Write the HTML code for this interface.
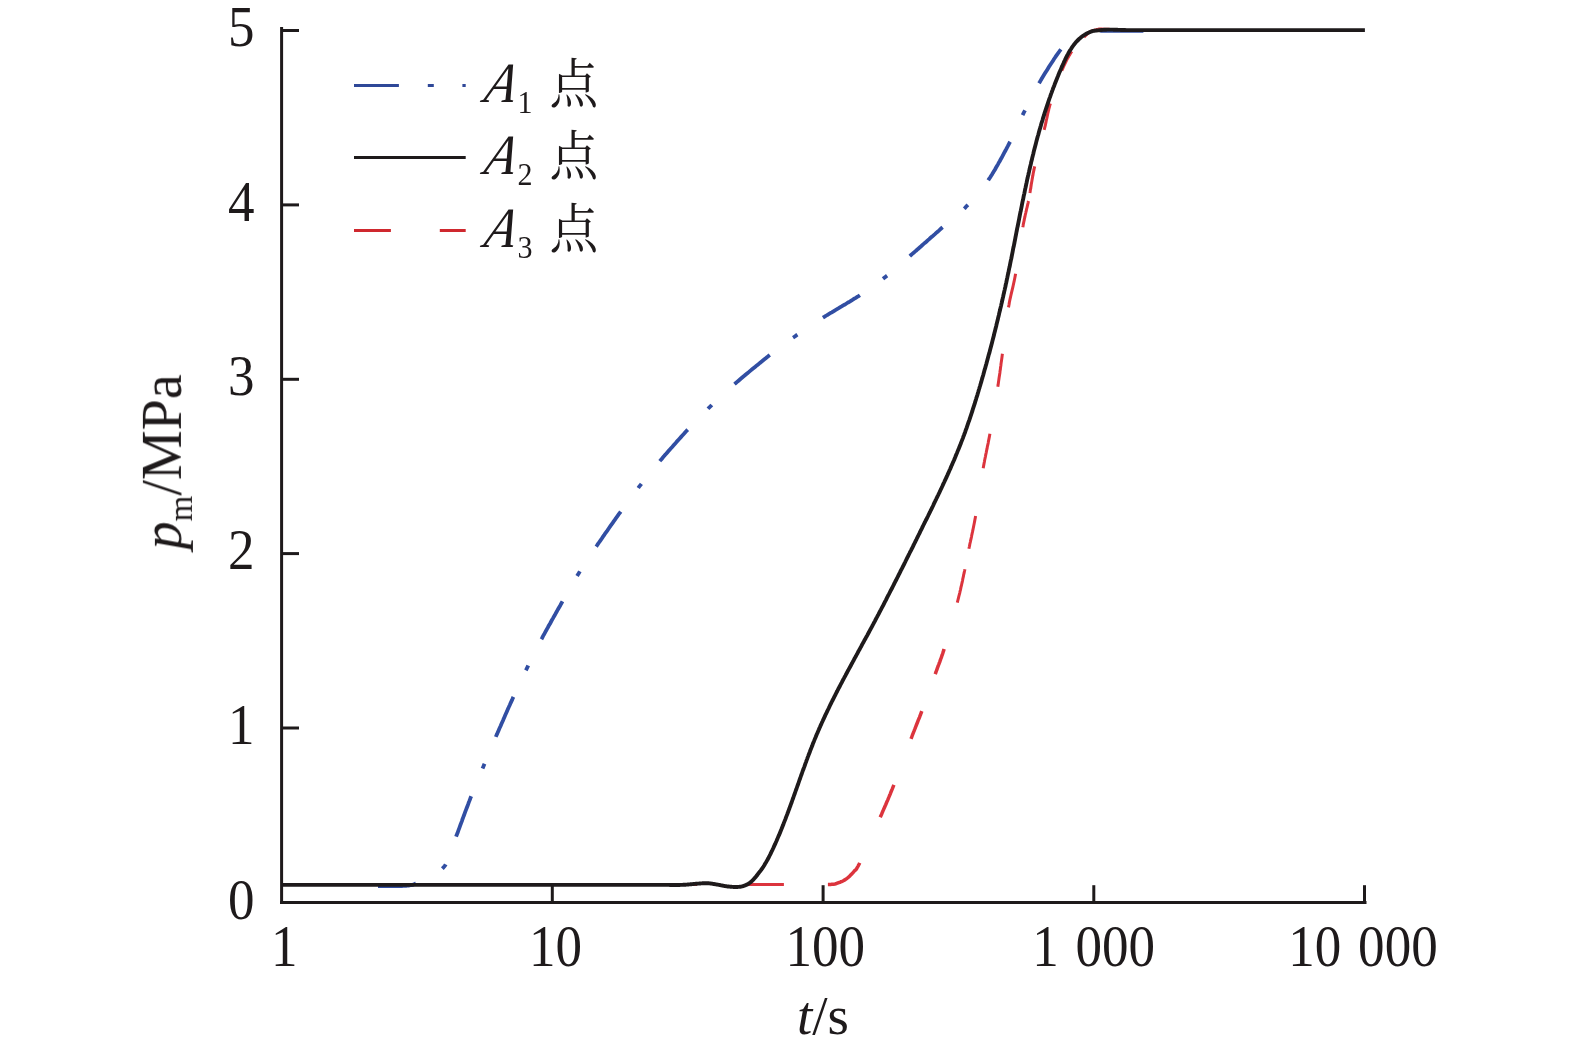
<!DOCTYPE html>
<html lang="zh"><head><meta charset="utf-8"><title>pm - t</title>
<style>html,body{margin:0;padding:0;background:#fff}svg{display:block}</style></head>
<body>
<svg width="1575" height="1052" viewBox="0 0 1575 1052">
<rect width="1575" height="1052" fill="#fff"/>
<g fill="none" stroke="#314ea3" stroke-width="3.8"><path d="M378.0 886.0 L379.3 886.0 L380.6 886.0 L381.8 886.0 L383.1 886.0 L384.3 886.0 L385.5 886.0 L386.7 886.0 L387.9 886.0 L389.1 886.0 L390.3 886.0 L391.4 886.1 L392.5 886.1 L393.5 886.1 L394.6 886.0 L395.6 886.0 L396.6 886.0 L397.5 886.0 L398.4 886.0 L399.2 886.0 L400.0 886.0 L400.7 886.0 L401.4 886.0 L402.1 886.0 L402.7 885.9 L403.3 885.9 L403.8 885.9 L404.3 885.9 L404.7 885.9 L405.2 885.8 L405.6 885.8 L406.0 885.8 L406.3 885.8 L406.7 885.7 L407.0 885.7 L407.3 885.7 L407.6 885.6 L407.9 885.6 L408.2 885.6 L408.5 885.5 L408.8 885.5 L409.1 885.4 L409.4 885.4 L409.7 885.4 L410.0 885.3 L410.3 885.2 L410.6 885.2 L410.9 885.2 L411.1 885.1 L411.4 885.1 L411.6 885.0 L411.8 885.0 L412.0 885.0 L412.2 884.9 L412.4 884.9 L412.6 884.8 L412.8 884.8 L412.9 884.7 L413.1 884.6 L413.3 884.6 L413.6 884.5 L413.8 884.4 L414.0 884.3 L414.3 884.2 L414.6 884.1 L414.9 884.0 L415.2 883.8 L415.6 883.7 L416.0 883.5"/><path d="M456.1 836.7 L456.5 835.5 L457.0 834.2 L457.6 832.8 L458.1 831.3 L458.7 829.7 L459.3 828.1 L459.9 826.4 L460.5 824.7 L461.2 822.9 L461.9 821.1 L462.5 819.2 L463.2 817.4 L463.9 815.5 L464.6 813.6 L465.3 811.7 L466.0 809.9 L466.7 808.0 L467.4 806.2 L468.1 804.4 L468.7 802.6 L469.4 800.9 L470.0 799.3 L470.6 797.7 L471.2 796.2"/><path d="M495.8 736.9 L496.4 735.4 L497.1 733.9 L497.8 732.3 L498.5 730.7 L499.2 729.1 L499.9 727.4 L500.7 725.7 L501.4 724.0 L502.2 722.2 L503.0 720.4 L503.7 718.7 L504.5 716.9 L505.3 715.1 L506.1 713.3 L506.9 711.6 L507.6 709.8 L508.4 708.1 L509.1 706.4 L509.9 704.7 L510.6 703.1 L511.4 701.4 L512.1 699.9 L512.7 698.4 L513.4 696.9"/><path d="M541.4 639.3 L542.2 637.9 L542.9 636.4 L543.7 634.9 L544.6 633.4 L545.4 631.8 L546.3 630.2 L547.2 628.6 L548.1 627.0 L549.0 625.3 L550.0 623.7 L550.9 622.0 L551.8 620.3 L552.8 618.6 L553.7 616.9 L554.7 615.3 L555.6 613.6 L556.5 612.0 L557.4 610.4 L558.3 608.8 L559.2 607.2 L560.1 605.7 L560.9 604.2 L561.7 602.8 L562.5 601.4"/><path d="M596.2 546.6 L597.1 545.3 L598.0 543.9 L599.0 542.5 L600.0 541.1 L601.0 539.7 L602.0 538.2 L603.0 536.7 L604.1 535.2 L605.1 533.6 L606.2 532.1 L607.3 530.6 L608.4 529.0 L609.4 527.5 L610.5 525.9 L611.6 524.4 L612.7 522.9 L613.7 521.4 L614.8 519.9 L615.8 518.4 L616.9 517.0 L617.8 515.6 L618.8 514.2 L619.8 512.9 L620.7 511.6"/><path d="M659.8 461.1 L660.8 459.9 L661.9 458.7 L662.9 457.4 L664.1 456.1 L665.2 454.8 L666.4 453.5 L667.5 452.2 L668.7 450.8 L669.9 449.4 L671.2 448.0 L672.4 446.7 L673.6 445.3 L674.8 443.9 L676.1 442.5 L677.3 441.1 L678.5 439.8 L679.7 438.4 L680.9 437.1 L682.1 435.8 L683.3 434.5 L684.4 433.3 L685.5 432.0 L686.6 430.8 L687.7 429.7"/><path d="M734.5 384.1 L735.8 383.0 L737.1 381.9 L738.5 380.7 L739.9 379.5 L741.3 378.3 L742.8 377.0 L744.3 375.8 L745.8 374.5 L747.4 373.2 L749.0 371.9 L750.5 370.6 L752.1 369.3 L753.7 368.0 L755.3 366.7 L756.8 365.4 L758.4 364.2 L759.9 362.9 L761.4 361.7 L762.9 360.5 L764.4 359.3 L765.8 358.2 L767.2 357.1 L768.5 356.0 L769.8 355.0"/><path d="M822.9 317.7 L824.3 316.8 L825.7 316.0 L827.2 315.0 L828.7 314.1 L830.2 313.2 L831.8 312.3 L833.4 311.3 L835.0 310.3 L836.6 309.4 L838.3 308.4 L839.9 307.4 L841.6 306.4 L843.2 305.4 L844.9 304.5 L846.5 303.5 L848.1 302.5 L849.7 301.6 L851.3 300.6 L852.8 299.7 L854.3 298.7 L855.8 297.8 L857.2 296.9 L858.6 296.1 L859.9 295.2"/><path d="M909.8 256.1 L911.0 255.0 L912.3 253.9 L913.6 252.8 L914.9 251.6 L916.3 250.5 L917.7 249.2 L919.1 248.0 L920.5 246.8 L921.9 245.5 L923.4 244.2 L924.8 242.9 L926.3 241.7 L927.7 240.4 L929.2 239.1 L930.6 237.8 L932.1 236.6 L933.5 235.3 L934.9 234.1 L936.2 232.9 L937.6 231.7 L938.9 230.6 L940.2 229.4 L941.4 228.3 L942.6 227.3"/><path d="M988.2 180.3 L989.1 178.9 L990.1 177.5 L991.0 176.0 L992.0 174.5 L992.9 172.9 L993.9 171.3 L994.9 169.7 L995.8 168.0 L996.8 166.3 L997.8 164.6 L998.7 162.9 L999.7 161.2 L1000.6 159.5 L1001.6 157.8 L1002.5 156.1 L1003.4 154.4 L1004.3 152.7 L1005.2 151.0 L1006.1 149.4 L1006.9 147.8 L1007.8 146.2 L1008.6 144.7 L1009.3 143.2 L1010.1 141.8"/><path d="M1039.0 83.3 L1039.8 82.0 L1040.6 80.6 L1041.5 79.1 L1042.4 77.6 L1043.3 76.1 L1044.2 74.6 L1045.1 73.1 L1046.1 71.5 L1047.1 69.9 L1048.0 68.4 L1049.0 66.8 L1050.0 65.2 L1051.0 63.7 L1052.0 62.2 L1053.0 60.7 L1053.9 59.2 L1054.9 57.8 L1055.8 56.4 L1056.7 55.1 L1057.6 53.8 L1058.5 52.6 L1059.3 51.5 L1060.1 50.4 L1060.9 49.4"/><path d="M1100.0 30.7 L1101.2 30.8 L1102.6 30.8 L1104.4 30.8 L1106.6 30.8 L1109.2 30.8 L1112.3 30.8 L1115.9 30.8 L1120.0 30.8 L1124.7 30.8 L1130.0 30.8 L1136.2 30.8 L1143.4 30.8"/><path d="M442.3 868.6 L442.8 868.1 L443.3 867.6 L443.8 867.1 L444.2 866.6 L444.6 866.1 L445.0 865.5 L445.4 865.0 L445.7 864.4"/><path d="M482.5 768.6 L483.0 767.4 L483.5 766.2 L484.0 765.0 L484.5 763.8"/><path d="M525.9 670.3 L526.5 669.1 L527.1 667.9 L527.7 666.7 L528.2 665.5"/><path d="M577.1 576.0 L577.8 574.8 L578.5 573.7 L579.2 572.6 L579.9 571.4"/><path d="M638.2 488.0 L639.0 486.9 L639.8 485.9 L640.6 484.9 L641.4 483.8"/><path d="M708.0 408.8 L708.9 407.8 L709.9 406.9 L710.9 406.0 L711.8 405.0"/><path d="M793.0 337.7 L794.1 337.0 L795.2 336.2 L796.3 335.4 L797.4 334.7"/><path d="M883.0 278.8 L884.0 278.0 L885.0 277.2 L886.0 276.4 L887.1 275.6"/><path d="M964.1 208.7 L965.1 207.8 L966.0 206.8 L966.9 205.8 L967.9 204.8"/><path d="M1022.6 115.1 L1023.2 113.9 L1023.8 112.7 L1024.4 111.5 L1025.0 110.3"/></g>
<g fill="none" stroke="#dc343d"><path d="M281.6 884.5" stroke-width="3.0"/><path d="M312.0 884.5 L313.4 884.5 L314.8 884.5 L316.2 884.5 L317.6 884.5 L319.1 884.5 L320.5 884.5 L321.9 884.5 L323.4 884.5 L324.8 884.5 L326.3 884.5 L327.8 884.5 L329.3 884.5 L330.8 884.5 L332.3 884.5 L333.9 884.5 L335.5 884.5 L337.1 884.5 L338.7 884.5 L340.3 884.5 L342.0 884.5 L343.7 884.5 L345.4 884.5 L347.2 884.5 L349.0 884.5" stroke-width="3.0"/><path d="M399.0 884.5 L400.8 884.5 L402.5 884.5 L404.2 884.5 L405.8 884.5 L407.3 884.5 L408.9 884.5 L410.4 884.5 L411.8 884.5 L413.3 884.5 L414.7 884.5 L416.1 884.5 L417.5 884.5 L418.9 884.5 L420.3 884.5 L421.7 884.5 L423.2 884.5 L424.6 884.5 L426.1 884.5 L427.7 884.5 L429.2 884.5 L430.8 884.5 L432.5 884.5 L434.2 884.5 L436.0 884.5" stroke-width="3.0"/><path d="M486.0 884.5 L487.8 884.5 L489.5 884.5 L491.2 884.5 L492.8 884.5 L494.3 884.5 L495.9 884.5 L497.4 884.5 L498.8 884.5 L500.3 884.5 L501.7 884.5 L503.1 884.5 L504.5 884.5 L505.9 884.5 L507.3 884.5 L508.7 884.5 L510.2 884.5 L511.6 884.5 L513.1 884.5 L514.7 884.5 L516.2 884.5 L517.8 884.5 L519.5 884.5 L521.2 884.5 L523.0 884.5" stroke-width="3.0"/><path d="M573.0 884.5 L574.8 884.5 L576.5 884.5 L578.2 884.5 L579.8 884.5 L581.3 884.5 L582.9 884.5 L584.4 884.5 L585.8 884.5 L587.3 884.5 L588.7 884.5 L590.1 884.5 L591.5 884.5 L592.9 884.5 L594.3 884.5 L595.7 884.5 L597.2 884.5 L598.6 884.5 L600.1 884.5 L601.7 884.5 L603.2 884.5 L604.8 884.5 L606.5 884.5 L608.2 884.5 L610.0 884.5" stroke-width="3.0"/><path d="M660.0 884.5 L661.8 884.5 L663.5 884.5 L665.2 884.5 L666.8 884.5 L668.3 884.5 L669.9 884.5 L671.4 884.5 L672.8 884.5 L674.3 884.5 L675.7 884.5 L677.1 884.5 L678.5 884.5 L679.9 884.5 L681.3 884.5 L682.7 884.5 L684.2 884.5 L685.6 884.5 L687.1 884.5 L688.7 884.5 L690.2 884.5 L691.8 884.5 L693.5 884.5 L695.2 884.5 L697.0 884.5" stroke-width="3.0"/><path d="M747.0 884.5 L748.8 884.5 L750.5 884.5 L752.2 884.5 L753.8 884.5 L755.4 884.5 L757.0 884.5 L758.5 884.5 L760.0 884.5 L761.5 884.5 L762.9 884.5 L764.4 884.5 L765.8 884.5 L767.3 884.5 L768.7 884.5 L770.1 884.5 L771.6 884.5 L773.0 884.5 L774.5 884.5 L776.0 884.5 L777.5 884.5 L779.0 884.5 L780.6 884.5 L782.2 884.5 L783.9 884.5" stroke-width="3.0"/><path d="M827.9 884.5 L829.0 884.5 L830.0 884.4 L830.8 884.4 L831.6 884.3 L832.3 884.3 L832.9 884.3 L833.5 884.2 L834.0 884.2 L834.4 884.1 L834.8 884.0 L835.1 884.0 L835.4 883.9 L835.6 883.8 L835.9 883.8 L836.1 883.7 L836.3 883.6 L836.5 883.5 L836.7 883.4 L836.9 883.3 L837.2 883.2 L837.4 883.1 L837.7 883.0 L838.0 882.9 L838.4 882.8 L838.8 882.7 L839.2 882.5 L839.6 882.4 L839.9 882.3 L840.3 882.1 L840.7 882.0 L841.0 881.8 L841.4 881.7 L841.7 881.5 L842.1 881.4 L842.4 881.2 L842.8 881.0 L843.1 880.8 L843.4 880.7 L843.8 880.5 L844.1 880.3 L844.4 880.1 L844.8 879.9 L845.1 879.7 L845.4 879.5 L845.7 879.3 L846.1 879.1 L846.4 878.8 L846.7 878.6 L847.0 878.4 L847.3 878.1 L847.6 877.9 L848.0 877.6 L848.3 877.4 L848.6 877.1 L848.9 876.8 L849.2 876.6 L849.5 876.3 L849.8 876.0 L850.1 875.7 L850.3 875.4 L850.6 875.1 L850.9 874.8 L851.2 874.5 L851.5 874.2 L851.8 873.9 L852.1 873.6 L852.3 873.3 L852.6 873.0 L852.9 872.7 L853.2 872.4 L853.4 872.0 L853.7 871.7 L854.0 871.4 L854.2 871.2 L854.4 870.9 L854.6 870.8 L854.8 870.6 L854.9 870.5 L855.1 870.4 L855.2 870.3 L855.4 870.2 L855.5 870.0 L855.7 869.9 L855.9 869.7 L856.0 869.5 L856.2 869.3 L856.4 869.0 L856.7 868.6 L856.9 868.2 L857.2 867.7 L857.5 867.2 L857.9 866.5 L858.3 865.8 L858.7 864.9 L859.2 864.0 L859.7 862.9" stroke-width="3.5"/><path d="M880.2 817.3 L880.9 815.7 L881.6 814.2 L882.2 812.7 L882.8 811.3 L883.4 809.9 L884.0 808.6 L884.6 807.3 L885.1 806.0 L885.7 804.7 L886.2 803.5 L886.7 802.3 L887.3 801.1 L887.8 799.9 L888.3 798.6 L888.8 797.4 L889.3 796.1 L889.9 794.9 L890.4 793.6 L890.9 792.2 L891.5 790.8 L892.1 789.4 L892.7 787.9 L893.3 786.4 L893.9 784.8" stroke-width="3.5"/><path d="M911.0 738.9 L911.6 737.4 L912.1 736.0 L912.6 734.6 L913.1 733.3 L913.6 732.1 L914.1 730.9 L914.5 729.8 L915.0 728.7 L915.4 727.6 L915.8 726.5 L916.2 725.5 L916.6 724.5 L917.0 723.5 L917.4 722.5 L917.8 721.5 L918.2 720.5 L918.6 719.4 L919.1 718.4 L919.5 717.3 L919.9 716.1 L920.4 715.0 L920.8 713.8 L921.3 712.5 L921.8 711.2" stroke-width="3.5"/><path d="M935.2 674.1 L935.7 672.8 L936.1 671.7 L936.5 670.5 L936.9 669.5 L937.3 668.5 L937.6 667.5 L938.0 666.5 L938.3 665.6 L938.7 664.7 L939.0 663.9 L939.3 663.0 L939.7 662.1 L940.0 661.2 L940.3 660.4 L940.6 659.4 L941.0 658.5 L941.3 657.5 L941.7 656.5 L942.0 655.4 L942.4 654.3 L942.8 653.1 L943.2 651.8 L943.7 650.4 L944.1 649.0" stroke-width="3.5"/><path d="M957.3 602.7 L957.7 601.0 L958.1 599.4 L958.5 597.8 L958.9 596.2 L959.3 594.7 L959.7 593.1 L960.0 591.6 L960.4 590.1 L960.7 588.6 L961.0 587.2 L961.4 585.7 L961.7 584.3 L962.0 582.9 L962.3 581.6 L962.6 580.2 L962.8 578.9 L963.1 577.6 L963.4 576.4 L963.6 575.1 L963.9 573.9 L964.2 572.7 L964.4 571.5 L964.7 570.3 L964.9 569.2" stroke-width="3.0"/><path d="M968.9 548.8 L969.1 547.7 L969.4 546.5 L969.6 545.4 L969.8 544.2 L970.1 543.0 L970.4 541.8 L970.6 540.6 L970.9 539.3 L971.2 538.1 L971.5 536.8 L971.7 535.5 L972.0 534.1 L972.3 532.7 L972.6 531.4 L972.9 529.9 L973.2 528.5 L973.5 527.0 L973.8 525.5 L974.1 524.0 L974.4 522.5 L974.7 520.9 L975.0 519.3 L975.3 517.7 L975.6 516.0" stroke-width="3.0"/><path d="M983.2 468.2 L983.5 466.5 L983.8 464.9 L984.1 463.3 L984.4 461.8 L984.6 460.4 L984.9 459.0 L985.2 457.6 L985.5 456.2 L985.7 454.9 L986.0 453.6 L986.3 452.3 L986.5 451.0 L986.8 449.7 L987.1 448.4 L987.3 447.0 L987.6 445.7 L987.9 444.4 L988.2 443.0 L988.4 441.6 L988.7 440.1 L989.0 438.6 L989.3 437.1 L989.6 435.5 L989.9 433.8" stroke-width="3.0"/><path d="M997.8 386.7 L998.1 385.1 L998.3 383.5 L998.5 382.0 L998.7 380.6 L998.9 379.2 L999.1 377.8 L999.3 376.5 L999.5 375.2 L999.7 373.9 L999.9 372.7 L1000.0 371.4 L1000.2 370.2 L1000.4 369.0 L1000.5 367.7 L1000.7 366.5 L1000.9 365.2 L1001.0 364.0 L1001.2 362.6 L1001.4 361.3 L1001.6 359.9 L1001.8 358.5 L1002.0 357.0 L1002.2 355.4 L1002.4 353.8" stroke-width="3.0"/><path d="M1008.5 307.4 L1008.8 305.8 L1009.1 304.2 L1009.3 302.7 L1009.6 301.2 L1009.9 299.8 L1010.2 298.4 L1010.5 297.1 L1010.8 295.7 L1011.1 294.4 L1011.4 293.1 L1011.7 291.9 L1012.0 290.6 L1012.3 289.3 L1012.6 288.1 L1012.9 286.8 L1013.2 285.5 L1013.5 284.2 L1013.8 282.8 L1014.1 281.4 L1014.4 280.0 L1014.7 278.5 L1015.0 277.0 L1015.3 275.4 L1015.6 273.8" stroke-width="3.0"/><path d="M1022.8 227.3 L1023.1 225.8 L1023.3 224.3 L1023.6 222.9 L1023.9 221.5 L1024.2 220.2 L1024.4 218.9 L1024.7 217.6 L1025.0 216.4 L1025.2 215.2 L1025.5 214.0 L1025.8 212.8 L1026.0 211.7 L1026.3 210.7 L1026.5 209.6 L1026.7 208.6 L1027.0 207.7 L1027.2 206.7 L1027.4 205.8 L1027.6 204.9 L1027.8 204.1 L1028.0 203.3 L1028.2 202.5 L1028.3 201.7 L1028.5 201.0" stroke-width="3.0"/><path d="M1029.9 193.0 L1030.0 192.3 L1030.2 191.5 L1030.3 190.6 L1030.4 189.7 L1030.6 188.8 L1030.8 187.9 L1030.9 186.9 L1031.1 185.8 L1031.2 184.8 L1031.4 183.7 L1031.6 182.6 L1031.8 181.4 L1032.0 180.3 L1032.2 179.1 L1032.4 177.9 L1032.6 176.6 L1032.9 175.4 L1033.1 174.1 L1033.3 172.8 L1033.6 171.5 L1033.9 170.2 L1034.1 168.9 L1034.4 167.6 L1034.7 166.3" stroke-width="3.0"/><path d="M1044.2 129.8 L1044.5 128.5 L1044.8 127.3 L1045.1 126.1 L1045.4 124.9 L1045.6 123.8 L1045.9 122.7 L1046.1 121.6 L1046.3 120.5 L1046.5 119.5 L1046.8 118.4 L1047.0 117.4 L1047.2 116.4 L1047.4 115.4 L1047.6 114.4 L1047.8 113.4 L1048.1 112.4 L1048.3 111.3 L1048.6 110.3 L1048.8 109.2 L1049.1 108.1 L1049.4 107.0 L1049.7 105.9 L1050.0 104.7 L1050.4 103.5" stroke-width="3.0"/><path d="M1061.8 70.8 L1062.2 69.7 L1062.7 68.7 L1063.1 67.7 L1063.5 66.7 L1063.9 65.8 L1064.3 64.9 L1064.8 64.0 L1065.2 63.2 L1065.6 62.3 L1066.0 61.5 L1066.4 60.7 L1066.7 60.0 L1067.1 59.2 L1067.5 58.5 L1068.0 57.7 L1068.4 57.0 L1068.8 56.3 L1069.2 55.6 L1069.6 54.9 L1070.0 54.2 L1070.5 53.5 L1070.9 52.8 L1071.3 52.1 L1071.8 51.4" stroke-width="3.0"/><path d="M1084.0 37.0 L1084.5 36.6 L1085.0 36.1 L1085.5 35.7 L1085.9 35.3 L1086.3 34.9 L1086.7 34.5 L1087.1 34.1 L1087.5 33.7 L1087.9 33.4 L1088.3 33.1 L1088.8 32.7 L1089.2 32.4 L1089.7 32.1 L1090.1 31.8 L1090.6 31.5 L1091.2 31.3 L1091.7 31.0 L1092.3 30.8 L1093.0 30.6 L1093.7 30.3 L1094.4 30.1 L1095.2 29.9 L1096.1 29.8 L1097.0 29.6 L1097.8 29.5 L1098.4 29.3 L1098.8 29.2 L1099.0 29.1 L1099.1 29.1 L1099.1 29.0 L1099.1 29.0 L1099.0 29.0 L1099.0 29.0 L1099.1 29.0 L1099.3 29.0 L1099.6 29.0 L1100.2 29.1 L1100.9 29.1 L1102.0 29.1 L1103.3 29.2 L1105.0 29.2 L1107.1 29.3 L1109.6 29.3" stroke-width="3.0"/></g>
<path d="M281.6 884.9 L284.3 884.9 L287.3 884.9 L290.7 884.9 L294.5 884.9 L298.5 884.9 L302.8 884.9 L307.4 884.9 L312.2 884.9 L317.3 884.9 L322.5 884.9 L327.8 884.9 L333.3 884.9 L338.9 884.9 L344.6 884.9 L350.3 884.9 L356.0 884.9 L361.8 884.9 L367.5 884.9 L373.2 884.9 L378.8 884.9 L384.3 884.9 L389.7 884.9 L394.9 884.9 L400.0 884.9 L405.0 884.9 L409.9 884.9 L414.9 884.9 L419.9 884.9 L424.9 884.9 L429.9 884.9 L434.9 884.9 L439.9 884.9 L444.9 884.9 L449.9 884.9 L454.9 884.9 L459.9 884.9 L464.9 884.9 L469.9 884.9 L474.9 884.9 L479.9 884.9 L485.0 884.9 L490.0 884.9 L495.0 884.9 L500.0 884.9 L505.0 884.9 L510.0 884.9 L515.0 884.9 L520.0 884.9 L525.1 884.9 L530.3 884.9 L535.7 884.9 L541.1 884.9 L546.7 884.9 L552.3 884.9 L558.0 884.9 L563.7 884.9 L569.4 884.9 L575.0 884.9 L580.6 884.9 L586.2 884.9 L591.7 884.9 L597.0 884.9 L602.3 884.9 L607.3 884.9 L612.2 884.9 L617.0 884.9 L621.5 884.9 L625.7 884.9 L629.7 884.9 L633.5 884.9 L636.9 884.9 L640.0 884.9 L642.8 884.9 L645.2 884.9 L647.4 884.9 L649.2 884.9 L650.8 884.9 L652.2 884.9 L653.4 884.9 L654.3 884.9 L655.1 884.9 L655.8 884.9 L656.3 884.9 L656.7 884.9 L657.0 884.9 L657.3 884.9 L657.5 884.9 L657.7 884.9 L657.9 884.9 L658.1 884.9 L658.3 884.9 L658.7 884.9 L659.1 884.9 L659.6 884.9 L660.2 884.9 L661.0 884.9 L661.9 884.9 L662.8 884.9 L663.7 884.9 L664.6 884.9 L665.5 884.9 L666.4 884.9 L667.3 884.9 L668.2 884.9 L669.1 884.9 L670.1 885.0 L671.0 885.0 L671.9 885.0 L672.8 885.0 L673.7 885.0 L674.6 885.0 L675.4 885.0 L676.3 885.0 L677.2 885.0 L678.0 885.0 L678.8 885.0 L679.6 885.0 L680.4 884.9 L681.2 884.9 L681.9 884.9 L682.6 884.9 L683.3 884.8 L684.0 884.8 L684.7 884.8 L685.3 884.7 L686.0 884.7 L686.6 884.6 L687.2 884.6 L687.8 884.5 L688.4 884.5 L688.9 884.4 L689.5 884.4 L690.1 884.3 L690.6 884.3 L691.2 884.2 L691.7 884.2 L692.2 884.1 L692.8 884.1 L693.3 884.0 L693.8 884.0 L694.3 883.9 L694.9 883.9 L695.4 883.8 L695.9 883.8 L696.4 883.8 L696.9 883.7 L697.4 883.7 L697.9 883.6 L698.4 883.6 L698.9 883.6 L699.4 883.5 L699.9 883.5 L700.3 883.5 L700.8 883.4 L701.3 883.4 L701.7 883.4 L702.2 883.3 L702.6 883.3 L703.1 883.3 L703.5 883.2 L703.9 883.2 L704.4 883.2 L704.8 883.2 L705.3 883.2 L705.7 883.2 L706.1 883.2 L706.6 883.2 L707.0 883.2 L707.4 883.2 L707.9 883.2 L708.3 883.3 L708.7 883.3 L709.1 883.3 L709.5 883.4 L710.0 883.4 L710.4 883.5 L710.8 883.5 L711.2 883.6 L711.6 883.6 L712.0 883.7 L712.4 883.8 L712.8 883.8 L713.2 883.9 L713.6 884.0 L714.0 884.0 L714.4 884.1 L714.8 884.2 L715.2 884.2 L715.6 884.3 L716.0 884.4 L716.4 884.4 L716.8 884.5 L717.2 884.6 L717.6 884.6 L718.0 884.7 L718.4 884.8 L718.8 884.9 L719.2 884.9 L719.7 885.0 L720.1 885.1 L720.5 885.2 L720.9 885.3 L721.3 885.4 L721.7 885.4 L722.1 885.5 L722.5 885.6 L722.9 885.7 L723.3 885.8 L723.7 885.8 L724.1 885.9 L724.6 886.0 L725.0 886.1 L725.4 886.1 L725.8 886.2 L726.2 886.2 L726.6 886.3 L727.0 886.4 L727.4 886.4 L727.8 886.5 L728.3 886.5 L728.7 886.5 L729.1 886.6 L729.5 886.6 L730.0 886.7 L730.4 886.7 L730.8 886.8 L731.3 886.8 L731.7 886.8 L732.1 886.9 L732.5 886.9 L732.9 886.9 L733.3 886.9 L733.7 887.0 L734.1 887.0 L734.5 887.0 L734.9 887.0 L735.3 887.0 L735.7 887.0 L736.0 887.0 L736.4 887.0 L736.7 887.0 L737.1 887.0 L737.4 887.0 L737.7 887.0 L738.0 886.9 L738.3 886.9 L738.6 886.9 L738.9 886.9 L739.2 886.9 L739.5 886.8 L739.8 886.8 L740.1 886.8 L740.4 886.7 L740.6 886.7 L740.9 886.6 L741.2 886.6 L741.4 886.5 L741.7 886.5 L742.0 886.4 L742.3 886.3 L742.5 886.3 L742.8 886.2 L743.1 886.1 L743.4 886.0 L743.7 885.9 L744.0 885.8 L744.3 885.7 L744.6 885.6 L744.9 885.5 L745.2 885.4 L745.4 885.3 L745.7 885.1 L746.0 885.0 L746.3 884.9 L746.6 884.7 L746.9 884.6 L747.2 884.4 L747.5 884.3 L747.8 884.1 L748.1 884.0 L748.4 883.8 L748.7 883.6 L748.9 883.4 L749.2 883.2 L749.5 883.0 L749.8 882.8 L750.1 882.6 L750.4 882.4 L750.7 882.2 L751.0 881.9 L751.3 881.6 L751.6 881.3 L752.0 881.0 L752.3 880.7 L752.6 880.3 L753.0 880.0 L753.3 879.6 L753.6 879.3 L754.0 878.9 L754.3 878.5 L754.6 878.2 L754.9 877.8 L755.2 877.5 L755.5 877.1 L755.8 876.8 L756.1 876.5 L756.3 876.2 L756.6 875.9 L756.8 875.7 L757.0 875.5 L757.1 875.3 L756.9 875.2 L757.9 874.1 L758.9 872.8 L759.9 871.6 L760.8 870.4 L761.7 869.1 L762.6 867.8 L763.5 866.5 L764.3 865.2 L765.1 863.8 L765.9 862.5 L766.7 861.1 L767.5 859.7 L768.3 858.3 L769.0 856.9 L769.7 855.5 L770.4 854.1 L771.1 852.6 L771.8 851.2 L772.5 849.8 L773.2 848.3 L773.8 846.9 L774.5 845.4 L775.2 843.9 L775.8 842.5 L776.5 841.0 L777.1 839.6 L777.7 838.1 L778.3 836.6 L779.0 835.2 L779.6 833.7 L780.2 832.2 L780.8 830.7 L781.4 829.3 L782.0 827.8 L782.6 826.3 L783.2 824.8 L783.7 823.4 L784.3 821.9 L784.9 820.4 L785.5 818.9 L786.0 817.4 L786.6 815.9 L787.2 814.4 L787.7 812.9 L788.3 811.5 L788.8 810.0 L789.4 808.5 L789.9 807.0 L790.5 805.5 L791.0 804.0 L791.6 802.5 L792.1 801.0 L792.6 799.5 L793.2 798.0 L793.7 796.5 L794.2 795.0 L794.8 793.5 L795.3 792.0 L795.8 790.5 L796.4 789.0 L796.9 787.5 L797.4 786.0 L798.0 784.5 L798.5 783.0 L799.0 781.5 L799.5 780.0 L800.1 778.5 L800.6 777.0 L801.1 775.5 L801.7 774.0 L802.2 772.5 L802.7 771.0 L803.3 769.6 L803.8 768.1 L804.4 766.6 L804.9 765.1 L805.4 763.6 L806.0 762.1 L806.5 760.6 L807.1 759.1 L807.6 757.6 L808.2 756.1 L808.7 754.7 L809.3 753.2 L809.9 751.7 L810.4 750.2 L811.0 748.7 L811.6 747.3 L812.2 745.8 L812.7 744.3 L813.3 742.8 L813.9 741.4 L814.5 739.9 L815.1 738.4 L815.7 737.0 L816.3 735.5 L816.9 734.0 L817.6 732.6 L818.2 731.1 L818.8 729.7 L819.4 728.2 L820.1 726.8 L820.7 725.3 L821.4 723.9 L822.0 722.4 L822.7 721.0 L823.3 719.6 L824.0 718.1 L824.7 716.7 L825.3 715.2 L826.0 713.8 L826.7 712.4 L827.4 710.9 L828.1 709.5 L828.8 708.1 L829.4 706.7 L830.1 705.2 L830.8 703.8 L831.5 702.4 L832.2 701.0 L833.0 699.5 L833.7 698.1 L834.4 696.7 L835.1 695.3 L835.8 693.9 L836.5 692.5 L837.3 691.0 L838.0 689.6 L838.7 688.2 L839.5 686.8 L840.2 685.4 L840.9 684.0 L841.7 682.6 L842.4 681.2 L843.1 679.8 L843.9 678.4 L844.6 677.0 L845.4 675.6 L846.1 674.2 L846.9 672.8 L847.6 671.4 L848.4 670.0 L849.1 668.6 L849.9 667.2 L850.7 665.8 L851.4 664.4 L852.2 663.0 L852.9 661.6 L853.7 660.2 L854.4 658.8 L855.2 657.4 L856.0 656.0 L856.7 654.6 L857.5 653.2 L858.2 651.8 L859.0 650.4 L859.8 649.0 L860.5 647.6 L861.3 646.2 L862.0 644.8 L862.8 643.4 L863.6 642.0 L864.3 640.6 L865.1 639.3 L865.8 637.9 L866.6 636.5 L867.4 635.1 L868.1 633.7 L868.9 632.3 L869.6 630.9 L870.4 629.5 L871.1 628.1 L871.9 626.7 L872.6 625.3 L873.4 623.9 L874.1 622.5 L874.9 621.1 L875.6 619.7 L876.3 618.3 L877.1 616.9 L877.8 615.5 L878.6 614.1 L879.3 612.7 L880.0 611.3 L880.8 609.9 L881.5 608.5 L882.2 607.1 L883.0 605.7 L883.7 604.3 L884.4 602.9 L885.1 601.5 L885.9 600.1 L886.6 598.6 L887.3 597.2 L888.0 595.8 L888.8 594.4 L889.5 593.0 L890.2 591.6 L890.9 590.2 L891.7 588.8 L892.4 587.4 L893.1 586.0 L893.8 584.6 L894.5 583.2 L895.2 581.7 L896.0 580.3 L896.7 578.9 L897.4 577.5 L898.1 576.1 L898.8 574.7 L899.5 573.3 L900.2 571.9 L900.9 570.4 L901.7 569.0 L902.4 567.6 L903.1 566.2 L903.8 564.8 L904.5 563.4 L905.2 562.0 L905.9 560.5 L906.6 559.1 L907.3 557.7 L908.0 556.3 L908.7 554.9 L909.4 553.5 L910.1 552.0 L910.9 550.6 L911.6 549.2 L912.3 547.8 L913.0 546.4 L913.7 544.9 L914.4 543.5 L915.1 542.1 L915.8 540.7 L916.5 539.3 L917.2 537.8 L917.9 536.4 L918.6 535.0 L919.3 533.6 L920.0 532.1 L920.7 530.7 L921.4 529.3 L922.1 527.9 L922.8 526.4 L923.5 525.0 L924.2 523.6 L924.9 522.2 L925.6 520.7 L926.4 519.3 L927.1 517.9 L927.8 516.5 L928.5 515.0 L929.2 513.6 L929.9 512.2 L930.6 510.7 L931.3 509.3 L932.0 507.9 L932.7 506.5 L933.4 505.0 L934.0 503.6 L934.7 502.2 L935.4 500.7 L936.1 499.3 L936.8 497.8 L937.5 496.4 L938.2 495.0 L938.9 493.5 L939.6 492.1 L940.2 490.7 L940.9 489.2 L941.6 487.8 L942.3 486.3 L942.9 484.9 L943.6 483.4 L944.3 482.0 L944.9 480.6 L945.6 479.1 L946.3 477.7 L946.9 476.2 L947.6 474.8 L948.2 473.3 L948.9 471.9 L949.5 470.4 L950.2 469.0 L950.8 467.5 L951.4 466.0 L952.1 464.6 L952.7 463.1 L953.3 461.7 L954.0 460.2 L954.6 458.7 L955.2 457.3 L955.8 455.8 L956.4 454.3 L957.0 452.9 L957.6 451.4 L958.2 449.9 L958.8 448.5 L959.4 447.0 L960.0 445.5 L960.6 444.0 L961.1 442.6 L961.7 441.1 L962.3 439.6 L962.9 438.1 L963.4 436.6 L964.0 435.2 L964.5 433.7 L965.1 432.2 L965.6 430.7 L966.1 429.2 L966.7 427.7 L967.2 426.2 L967.7 424.7 L968.2 423.2 L968.7 421.7 L969.3 420.2 L969.8 418.7 L970.3 417.2 L970.8 415.7 L971.3 414.2 L971.8 412.7 L972.3 411.2 L972.7 409.7 L973.2 408.2 L973.7 406.7 L974.2 405.2 L974.7 403.7 L975.1 402.2 L975.6 400.6 L976.1 399.1 L976.5 397.6 L977.0 396.1 L977.5 394.6 L977.9 393.1 L978.4 391.5 L978.8 390.0 L979.3 388.5 L979.7 387.0 L980.2 385.5 L980.6 384.0 L981.1 382.4 L981.5 380.9 L981.9 379.4 L982.4 377.9 L982.8 376.3 L983.3 374.8 L983.7 373.3 L984.1 371.8 L984.5 370.2 L985.0 368.7 L985.4 367.2 L985.8 365.7 L986.3 364.1 L986.7 362.6 L987.1 361.1 L987.5 359.5 L987.9 358.0 L988.3 356.5 L988.7 354.9 L989.2 353.4 L989.6 351.9 L990.0 350.3 L990.4 348.8 L990.8 347.3 L991.2 345.7 L991.6 344.2 L992.0 342.7 L992.4 341.1 L992.8 339.6 L993.2 338.1 L993.6 336.5 L994.0 335.0 L994.3 333.4 L994.7 331.9 L995.1 330.4 L995.5 328.8 L995.9 327.3 L996.3 325.7 L996.6 324.2 L997.0 322.6 L997.4 321.1 L997.8 319.6 L998.1 318.0 L998.5 316.5 L998.9 314.9 L999.2 313.4 L999.6 311.8 L1000.0 310.3 L1000.3 308.7 L1000.7 307.2 L1001.1 305.6 L1001.4 304.1 L1001.8 302.5 L1002.1 301.0 L1002.5 299.5 L1002.8 297.9 L1003.2 296.4 L1003.5 294.8 L1003.9 293.3 L1004.2 291.7 L1004.6 290.1 L1004.9 288.6 L1005.3 287.0 L1005.6 285.5 L1005.9 283.9 L1006.3 282.4 L1006.6 280.8 L1006.9 279.3 L1007.3 277.7 L1007.6 276.2 L1007.9 274.6 L1008.3 273.1 L1008.6 271.5 L1008.9 269.9 L1009.2 268.4 L1009.6 266.8 L1009.9 265.3 L1010.2 263.7 L1010.5 262.2 L1010.8 260.6 L1011.2 259.0 L1011.5 257.5 L1011.8 255.9 L1012.1 254.4 L1012.4 252.8 L1012.7 251.3 L1013.0 249.7 L1013.3 248.1 L1013.7 246.6 L1014.0 245.0 L1014.3 243.5 L1014.6 241.9 L1014.9 240.3 L1015.2 238.8 L1015.5 237.2 L1015.8 235.7 L1016.1 234.1 L1016.4 232.5 L1016.7 231.0 L1017.0 229.4 L1017.3 227.9 L1017.7 226.3 L1018.0 224.7 L1018.3 223.2 L1018.6 221.6 L1018.9 220.1 L1019.2 218.5 L1019.5 217.0 L1019.8 215.4 L1020.1 213.8 L1020.4 212.3 L1020.8 210.7 L1021.1 209.2 L1021.4 207.6 L1021.7 206.1 L1022.0 204.5 L1022.3 202.9 L1022.6 201.4 L1023.0 199.8 L1023.3 198.3 L1023.6 196.7 L1023.9 195.2 L1024.3 193.6 L1024.6 192.1 L1024.9 190.5 L1025.2 189.0 L1025.6 187.4 L1025.9 185.8 L1026.2 184.3 L1026.6 182.7 L1026.9 181.2 L1027.2 179.6 L1027.6 178.1 L1027.9 176.5 L1028.3 175.0 L1028.6 173.5 L1029.0 171.9 L1029.3 170.4 L1029.7 168.8 L1030.0 167.3 L1030.4 165.7 L1030.8 164.2 L1031.1 162.6 L1031.5 161.1 L1031.9 159.6 L1032.2 158.0 L1032.6 156.5 L1033.0 154.9 L1033.4 153.4 L1033.7 151.9 L1034.1 150.3 L1034.5 148.8 L1034.9 147.2 L1035.3 145.7 L1035.7 144.2 L1036.1 142.6 L1036.5 141.1 L1036.9 139.6 L1037.3 138.0 L1037.7 136.5 L1038.2 135.0 L1038.6 133.5 L1039.0 131.9 L1039.4 130.4 L1039.9 128.9 L1040.3 127.4 L1040.8 125.8 L1041.2 124.3 L1041.6 122.8 L1042.1 121.3 L1042.6 119.8 L1043.0 118.2 L1043.5 116.7 L1044.0 115.2 L1044.4 113.7 L1044.9 112.2 L1045.4 110.7 L1045.9 109.2 L1046.4 107.7 L1046.9 106.1 L1047.4 104.6 L1047.9 103.1 L1048.4 101.6 L1048.9 100.1 L1049.4 98.6 L1050.0 97.1 L1050.5 95.6 L1051.0 94.1 L1051.6 92.6 L1052.1 91.1 L1052.7 89.6 L1053.2 88.1 L1053.8 86.7 L1054.4 85.2 L1054.9 83.7 L1055.5 82.2 L1056.1 80.7 L1056.7 79.2 L1057.3 77.7 L1057.9 76.3 L1058.5 74.8 L1059.1 73.3 L1059.7 71.8 L1060.4 70.4 L1061.0 68.9 L1061.6 67.4 L1062.3 65.9 L1062.9 64.5 L1063.6 63.0 L1064.2 61.5 L1064.9 60.1 L1065.6 58.6 L1066.3 57.2 L1067.0 55.8 L1067.8 54.4 L1068.5 53.0 L1069.3 51.6 L1070.1 50.3 L1071.0 49.0 L1071.8 47.7 L1072.7 46.4 L1073.6 45.2 L1074.5 44.0 L1075.5 42.8 L1076.5 41.6 L1077.6 40.5 L1078.6 39.5 L1079.7 38.4 L1080.9 37.4 L1082.1 36.5 L1083.3 35.6 L1084.6 34.8 L1086.0 34.0 L1087.3 33.2 L1088.7 32.6 L1090.2 31.9 L1091.7 31.4 L1093.2 30.9 L1094.3 30.8 L1094.7 30.7 L1095.1 30.7 L1095.5 30.6 L1095.9 30.6 L1096.4 30.5 L1096.9 30.5 L1097.4 30.4 L1098.0 30.4 L1098.6 30.3 L1099.2 30.2 L1099.8 30.2 L1100.4 30.1 L1101.1 30.0 L1101.8 30.0 L1102.5 29.9 L1103.2 29.9 L1103.9 29.8 L1104.6 29.8 L1105.3 29.7 L1106.1 29.7 L1106.8 29.6 L1107.6 29.6 L1108.3 29.6 L1109.0 29.6 L1109.7 29.6 L1110.3 29.6 L1110.9 29.6 L1111.5 29.6 L1112.1 29.6 L1112.6 29.6 L1113.2 29.7 L1113.8 29.7 L1114.4 29.7 L1115.0 29.7 L1115.7 29.8 L1116.4 29.8 L1117.2 29.8 L1118.0 29.9 L1118.9 29.9 L1119.9 29.9 L1121.0 30.0 L1122.2 30.0 L1123.5 30.0 L1124.9 30.0 L1126.5 30.1 L1128.2 30.1 L1130.0 30.1 L1131.9 30.1 L1133.8 30.1 L1135.8 30.1 L1137.8 30.1 L1139.8 30.1 L1141.9 30.1 L1144.0 30.1 L1146.2 30.1 L1148.5 30.1 L1150.9 30.1 L1153.4 30.1 L1156.0 30.1 L1158.8 30.1 L1161.7 30.1 L1164.7 30.1 L1167.8 30.1 L1171.2 30.1 L1174.7 30.1 L1178.4 30.1 L1182.3 30.1 L1186.4 30.1 L1190.7 30.1 L1195.2 30.1 L1200.0 30.1 L1205.2 30.1 L1210.9 30.1 L1217.2 30.1 L1223.9 30.1 L1231.0 30.1 L1238.4 30.1 L1246.1 30.1 L1254.0 30.1 L1262.1 30.1 L1270.3 30.1 L1278.6 30.1 L1286.8 30.1 L1295.0 30.1 L1303.1 30.1 L1311.0 30.1 L1318.6 30.1 L1326.0 30.1 L1333.0 30.1 L1339.7 30.1 L1345.9 30.1 L1351.5 30.1 L1356.6 30.1 L1361.1 30.1 L1364.9 30.1" fill="none" stroke="#1e1a1b" stroke-width="3.9" stroke-linejoin="round"/>
<g fill="none" stroke="#1e1a1b" stroke-width="3"><path d="M281.6 27 V903.9"/><path d="M280.1 902.4 H1366.5"/><path d="M281.6 728.0 H299"/><path d="M281.6 553.6 H299"/><path d="M281.6 379.3 H299"/><path d="M281.6 204.9 H299"/><path d="M281.6 30.5 H299"/><path d="M552.3 902.4 V885.2"/><path d="M823.1 902.4 V885.2"/><path d="M1093.8 902.4 V885.2"/><path d="M1364.5 902.4 V885.2"/></g>
<g fill="none" stroke-width="3"><path d="M354 85.5 H398.9 M427.8 85.5 H433.8 M462.4 85.5 H465.7" stroke="#2f4898"/><path d="M354 157.5 H465.7" stroke="#1e1a1b"/><path d="M354 230.4 H390.9 M439.8 230.4 H465.7" stroke="#cf282e"/></g>
<g font-family="'Liberation Serif','Noto Serif CJK SC',serif" fill="#1e1a1b" opacity="0.999"><text transform="translate(254.6 918.7) scale(0.965 1.045)" font-size="55" text-anchor="end">0</text><text transform="translate(254.6 744.0) scale(0.965 1.045)" font-size="55" text-anchor="end">1</text><text transform="translate(254.6 569.2) scale(0.965 1.045)" font-size="55" text-anchor="end">2</text><text transform="translate(254.6 394.5) scale(0.965 1.045)" font-size="55" text-anchor="end">3</text><text transform="translate(254.6 220.6) scale(0.965 1.045)" font-size="55" text-anchor="end">4</text><text transform="translate(254.6 45.6) scale(0.965 1.045)" font-size="55" text-anchor="end">5</text><text transform="translate(284.2 966.0) scale(0.965 1.06)" font-size="55" text-anchor="middle" word-spacing="3.6">1</text><text transform="translate(555.5 966.0) scale(0.965 1.06)" font-size="55" text-anchor="middle" word-spacing="3.6">10</text><text transform="translate(825.2 966.0) scale(0.965 1.06)" font-size="55" text-anchor="middle" word-spacing="3.6">100</text><text transform="translate(1093.7 966.0) scale(0.965 1.06)" font-size="55" text-anchor="middle" word-spacing="3.6">1 000</text><text transform="translate(1363.0 966.0) scale(0.965 1.06)" font-size="55" text-anchor="middle" word-spacing="3.6">10 000</text><text transform="translate(823.0 1034.1) scale(1.0 1.0)" font-size="55" text-anchor="middle"><tspan font-style="italic">t</tspan>/s</text><text transform="translate(180.9 549.4) rotate(-90)" font-size="56"><tspan font-style="italic">p</tspan><tspan font-size="33" dy="11.4">m</tspan><tspan dy="-11.4">/MPa</tspan></text><text transform="translate(482.6 101.7) skewX(-14) scale(0.9 1.03)" font-size="55" text-anchor="start" font-style="italic">A</text><text transform="translate(517.6 113.0) scale(0.97 1.0)" font-size="31" text-anchor="start">1</text><text transform="translate(549.6 103.1) scale(0.975 1.075)" font-size="50" text-anchor="start">点</text><text transform="translate(482.6 174.0) skewX(-14) scale(0.9 1.03)" font-size="55" text-anchor="start" font-style="italic">A</text><text transform="translate(517.6 185.3) scale(0.97 1.0)" font-size="31" text-anchor="start">2</text><text transform="translate(549.6 175.4) scale(0.975 1.075)" font-size="50" text-anchor="start">点</text><text transform="translate(482.6 246.7) skewX(-14) scale(0.9 1.03)" font-size="55" text-anchor="start" font-style="italic">A</text><text transform="translate(517.6 258.0) scale(0.97 1.0)" font-size="31" text-anchor="start">3</text><text transform="translate(549.6 248.1) scale(0.975 1.075)" font-size="50" text-anchor="start">点</text></g>
</svg>
</body></html>
